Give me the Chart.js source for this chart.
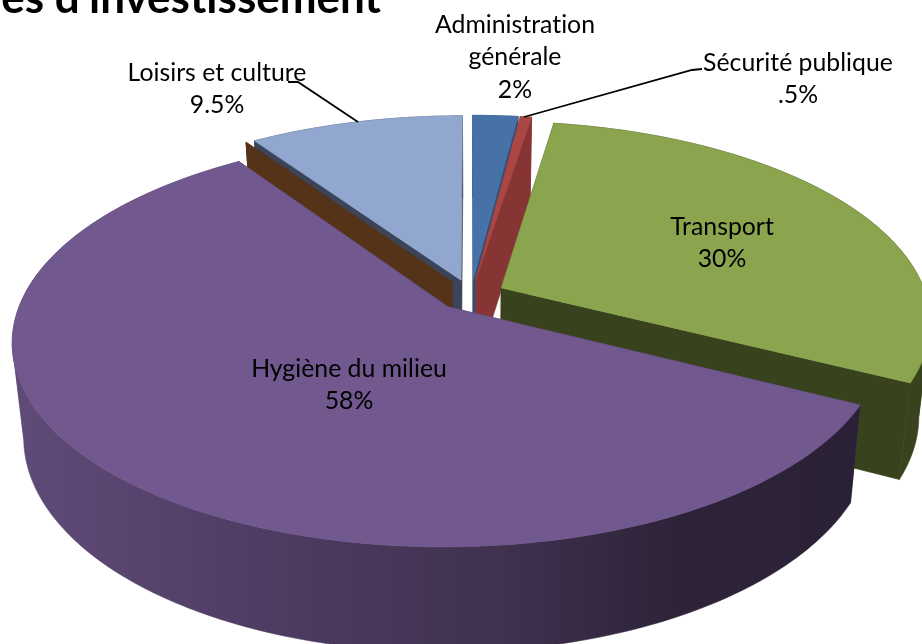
<!DOCTYPE html>
<html>
<head>
<meta charset="utf-8">
<script src="https://cdn.jsdelivr.net/npm/chart.js@4"></script>
<style>
  html, body { margin: 0; padding: 0; background: #fff; overflow: hidden; }
  canvas { display: block; }
</style>
</head>
<body>
<canvas id="piechart" width="922" height="644"></canvas>
<script>
// slice order follows the picture, clockwise from 12 o'clock. The unnamed zero slice only shows its brown wall.
const categories = ['Administration générale', 'Sécurité publique', 'Transport', 'Hygiène du milieu', '', 'Loisirs et culture'];
const shares = [2, 0.5, 30, 58, 0, 9.5];
const topColors = ['#4672a8', '#aa4643', '#8ba54f', '#71588f', '#553318', '#92a7cf'];
const wallColors = ['#2f4e75', '#863534', '#38421c', '#4c3a5e', '#553318', '#3b4458'];
const paintOrder = [5, 4, 0, 1, 2, 3];

// camera for the tilted disc
const CX = 471, CY = 295, RX = 425, RY = 196, TILT = 0.165, DEPTH = 92, SHRINK = 0.025;

// label text blocks: slice index, centre x, first line centre y, lines of the name
const labelSpots = [
  { i: 0, x: 515, y: 25, lines: ['Administration', 'générale'] },
  { i: 1, x: 798, y: 63, lines: ['Sécurité publique'] },
  { i: 2, x: 722, y: 227, lines: ['Transport'] },
  { i: 3, x: 349, y: 369, lines: ['Hygiène du milieu'] },
  { i: 5, x: 217, y: 73, lines: ['Loisirs et culture'] }
];
const LINE_H = 32.5;

function project(u, v, z) {
  const w = 1 - TILT * v;
  const s = 1 - SHRINK * z;
  return [CX + u * RX / w * s, CY + v * RY / w * s + z * DEPTH / w];
}

function fillPoly(ctx, pts, fill, edge) {
  ctx.beginPath();
  pts.forEach((p, n) => {
    if (n == 0) ctx.moveTo(p[0], p[1]);
    else ctx.lineTo(p[0], p[1]);
  });
  ctx.closePath();
  ctx.fillStyle = fill;
  ctx.strokeStyle = fill;
  ctx.lineWidth = edge;
  ctx.fill();
  ctx.stroke();
}

function hygieneGradient(ctx) {
  const g = ctx.createLinearGradient(10, 0, 860, 0);
  g.addColorStop(0, '#604b79');
  g.addColorStop(0.3, '#4f3c62');
  g.addColorStop(0.58, '#40314f');
  g.addColorStop(0.78, '#2e2339');
  g.addColorStop(1, '#2b2136');
  return g;
}

// cut the rim where it turns round in x, so that no band folds over itself
function rimBands(rim) {
  const bands = [[rim[0]]];
  let dir = 0;
  for (let k = 1; k < rim.length; k++) {
    const dx = project(rim[k][0], rim[k][1], 0)[0] - project(rim[k - 1][0], rim[k - 1][1], 0)[0];
    const now = dx >= 0 ? 1 : -1;
    if (dir != 0 && now != dir) bands.push([rim[k - 1]]);
    bands[bands.length - 1].push(rim[k]);
    dir = now;
  }
  const depthOf = b => b.reduce((sum, r) => sum + r[1], 0) / b.length;
  return bands.sort((a, b) => depthOf(a) - depthOf(b));
}

function drawSlice(ctx, arc, index) {
  const R = arc.outerRadius;
  const d = arc.options.offset / 4 / R;
  const mid = (arc.startAngle + arc.endAngle) / 2;
  const ou = d * Math.cos(mid), ov = d * Math.sin(mid);
  const steps = Math.max(1, Math.ceil((arc.endAngle - arc.startAngle) / 0.02));
  const rim = [];
  for (let k = 0; k <= steps; k++) {
    const a = arc.startAngle + (arc.endAngle - arc.startAngle) * k / steps;
    rim.push([ou + Math.cos(a), ov + Math.sin(a)]);
  }
  const wall = wallColors[index];
  const side = index == 3 ? hygieneGradient(ctx) : wall;

  // cut faces first, then the rim from back to front, top last
  [rim[0], rim[steps]].forEach(e => {
    fillPoly(ctx, [project(ou, ov, 0), project(e[0], e[1], 0), project(e[0], e[1], 1), project(ou, ov, 1)], wall, 0.6);
  });
  rimBands(rim).forEach(band => {
    const upper = band.map(r => project(r[0], r[1], 0));
    const lower = band.map(r => project(r[0], r[1], 1)).reverse();
    fillPoly(ctx, upper.concat(lower), side, 0.6);
  });

  const top = [project(ou, ov, 0)].concat(rim.map(r => project(r[0], r[1], 0)));
  fillPoly(ctx, top, arc.options.backgroundColor, 0.6);
}

function percentText(v) {
  return String(v).replace(/^0\./, '.') + '%';
}

const disc3d = {
  id: 'disc3d',
  beforeDatasetsDraw(chart) {
    const arcs = chart.getDatasetMeta(0).data;
    paintOrder.forEach(i => drawSlice(chart.ctx, arcs[i], i));
    return false;
  },
  afterDraw(chart) {
    const ctx = chart.ctx;
    ctx.save();

    ctx.strokeStyle = '#000';
    ctx.lineWidth = 1.8;
    ctx.beginPath();
    ctx.moveTo(288, 82); ctx.lineTo(298, 82); ctx.lineTo(358, 122);
    ctx.moveTo(702, 69); ctx.lineTo(692, 70); ctx.lineTo(524, 117);
    ctx.stroke();

    ctx.fillStyle = '#000';
    ctx.textAlign = 'center';
    ctx.textBaseline = 'middle';
    ctx.letterSpacing = '0.01px'; // keeps Lato from joining "ti"
    ctx.font = '24.8px Lato, "Open Sans", sans-serif';
    labelSpots.forEach(s => {
      let y = s.y;
      s.lines.forEach(t => {
        ctx.fillText(t, s.x, y);
        y += LINE_H;
      });
      ctx.fillText(percentText(shares[s.i]), s.x, y);
    });

    ctx.textAlign = 'right';
    ctx.textBaseline = 'alphabetic';
    ctx.font = 'bold 44px Lato, "Open Sans", sans-serif';
    ctx.fillText("es d'investissement", 381, 13);
    ctx.restore();
  }
};

const ctx = document.getElementById('piechart').getContext('2d');
const pieChart = new Chart(ctx, {
  type: 'pie',
  data: {
    labels: categories,
    datasets: [{
      data: shares,
      backgroundColor: topColors,
      borderWidth: 0,
      offset: 89
    }]
  },
  options: {
    responsive: false,
    animation: false,
    events: [],
    plugins: {
      legend: { display: false },
      tooltip: { enabled: false }
    }
  },
  plugins: [disc3d]
});
</script>
</body>
</html>
